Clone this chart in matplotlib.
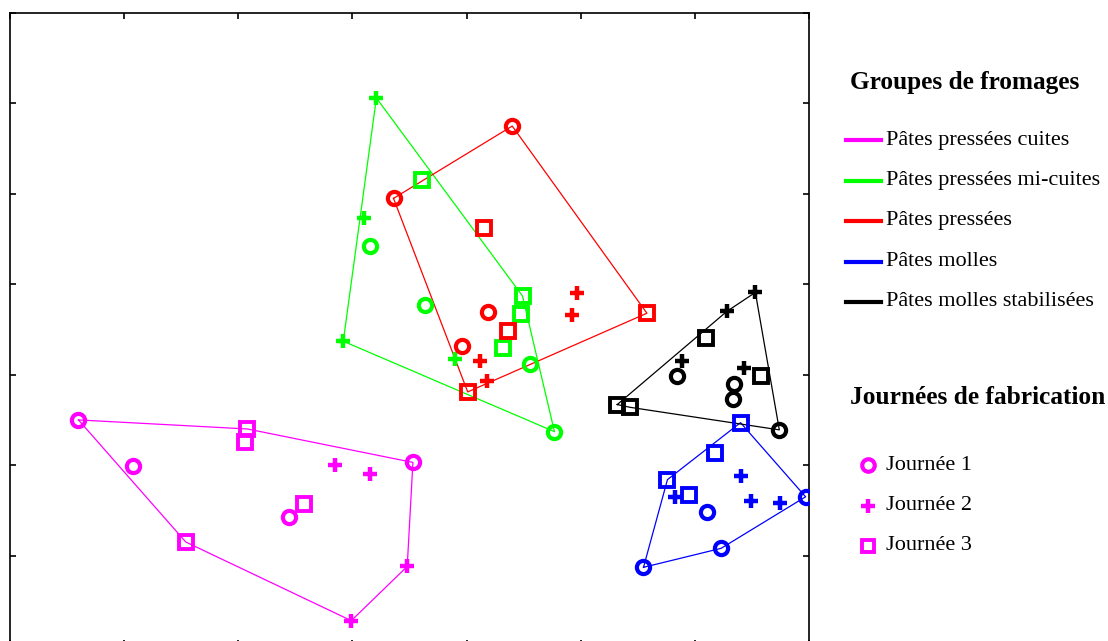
import numpy as np
import matplotlib
matplotlib.use('Agg')
import matplotlib.pyplot as plt
from matplotlib.lines import Line2D

# groups of cheese, three days each (circle = day 1, plus = day 2, square = day 3)
groups = ['Pâtes pressées cuites', 'Pâtes pressées mi-cuites', 'Pâtes pressées',
          'Pâtes molles', 'Pâtes molles stabilisées']
colors = ['#ff00ff', '#00ff00', '#ff0000', '#0000ff', '#000000']
days = ['Journée 1', 'Journée 2', 'Journée 3']

ppc_x = [[0.60, 1.08, 2.44, 3.53], [2.85, 3.15, 3.48, 2.99], [2.08, 2.06, 2.58, 1.54]]
ppc_y = [[2.50, 1.99, 1.43, 2.03], [2.00, 1.90, 0.88, 0.28], [2.40, 2.26, 1.57, 1.15]]

ppmc_x = [[3.15, 3.64, 4.56, 4.77], [3.21, 3.10, 2.92, 3.90], [3.61, 4.49, 4.48, 4.32]]
ppmc_y = [[4.42, 3.77, 3.12, 2.37], [6.06, 4.73, 3.37, 3.17], [5.15, 3.87, 3.67, 3.30]]

pp_x = [[4.40, 3.36, 4.19, 3.96], [4.97, 4.92, 4.12, 4.18], [4.15, 5.58, 4.36, 4.01]]
pp_y = [[5.75, 4.95, 3.69, 3.32], [3.90, 3.66, 3.15, 2.93], [4.62, 3.68, 3.48, 2.81]]

pm_x = [[6.97, 6.11, 6.23, 5.55], [6.40, 5.83, 6.49, 6.75], [6.40, 6.18, 5.76, 5.95]]
pm_y = [[1.65, 1.48, 1.08, 0.87], [1.88, 1.65, 1.60, 1.58], [2.47, 2.13, 1.84, 1.67]]

pms_x = [[5.84, 6.34, 6.33, 6.74], [6.53, 6.28, 5.89, 6.43], [6.10, 6.58, 5.32, 5.43]]
pms_y = [[2.99, 2.90, 2.73, 2.39], [3.91, 3.70, 3.15, 3.07], [3.41, 2.99, 2.67, 2.64]]

all_x = [ppc_x, ppmc_x, pp_x, pm_x, pms_x]
all_y = [ppc_y, ppmc_y, pp_y, pm_y, pms_y]
markers = ['o', '+', 's']
msize = {'o': 9.5, '+': 10.5, 's': 9.5}
mwidth = {'o': 3.0, '+': 3.2, 's': 2.8}


def hull(pts):
    pts = sorted(set(pts))
    def cross(o, a, b):
        return (a[0]-o[0])*(b[1]-o[1]) - (a[1]-o[1])*(b[0]-o[0])
    lower, upper = [], []
    for p in pts:
        while len(lower) >= 2 and cross(lower[-2], lower[-1], p) <= 0:
            lower.pop()
        lower.append(p)
    for p in reversed(pts):
        while len(upper) >= 2 and cross(upper[-2], upper[-1], p) <= 0:
            upper.pop()
        upper.append(p)
    return lower[:-1] + upper[:-1]


W, H = 1108, 641
fig = plt.figure(figsize=(W/100, H/100), dpi=100)
ax = fig.add_axes([10/W, (H-646)/H, 799/W, 633/H])

for gx, gy, c in zip(all_x, all_y, colors):
    pts = [(x, y) for xs, ys in zip(gx, gy) for x, y in zip(xs, ys)]
    h = hull(pts)
    h.append(h[0])
    ax.plot([p[0] for p in h], [p[1] for p in h], color=c, lw=0.9, zorder=2)
    for k, m in enumerate(markers):
        ax.plot(gx[k], gy[k], ls='none', marker=m, ms=msize[m], mfc='none',
                mec=c, mew=mwidth[m], zorder=3)

ax.set_xlim(0, 7)
ax.set_ylim(0, 7)
ax.set_xticks(np.arange(0, 8))
ax.set_yticks(np.arange(0, 8))
ax.tick_params(direction='in', length=4, width=1.2, top=True, right=True,
               labelbottom=False, labelleft=False)
for s in ax.spines.values():
    s.set_linewidth(1.2)

# legends drawn on the right in pixel positions
serif = 'Liberation Serif'


def fx(px):
    return px / W


def fy(py):
    return 1 - py / H


fig.text(fx(850), fy(82), 'Groupes de fromages', family=serif, weight='bold',
         fontsize=18.2, va='center', ha='left')
for i, (g, c) in enumerate(zip(groups, colors)):
    yy = 140 + i * 40.5
    fig.add_artist(Line2D([fx(846), fx(881)], [fy(yy), fy(yy)], color=c, lw=3))
    fig.text(fx(886), fy(yy), g, family=serif, fontsize=16, va='center', ha='left')

fig.text(fx(850), fy(398), 'Journées de fabrication', family=serif, weight='bold',
         fontsize=18.3, va='center', ha='left')
for i, (d, m) in enumerate(zip(days, markers)):
    yy = 465 + i * 40.5
    fig.add_artist(Line2D([fx(868)], [fy(yy)], ls='none', marker=m,
                          ms=msize[m] - 0.5, mfc='none', mec=colors[0],
                          mew=mwidth[m]))
    fig.text(fx(886), fy(yy), d, family=serif, fontsize=16, va='center', ha='left')

fig.savefig('out.png', dpi=100)
